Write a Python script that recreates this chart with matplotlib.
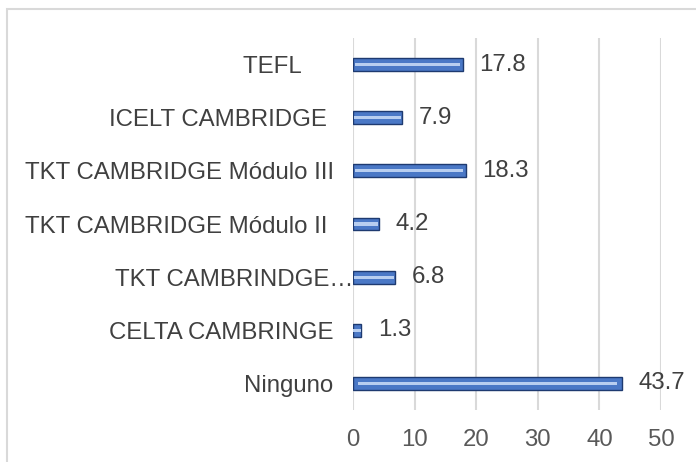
import matplotlib
matplotlib.use('Agg')
import matplotlib.pyplot as plt
import matplotlib.transforms as mtransforms
from matplotlib.patches import Rectangle

plt.rcParams['font.family'] = ['Liberation Sans', 'DejaVu Sans']

categories = ['Ninguno', 'CELTA CAMBRINGE', 'TKT CAMBRINDGE\u2026',
              'TKT CAMBRIDGE Módulo II ', 'TKT CAMBRIDGE Módulo III',
              'ICELT CAMBRIDGE ', 'TEFL     ']
values = [43.7, 1.3, 6.8, 4.2, 18.3, 7.9, 17.8]
ticks = [0, 10, 20, 30, 40, 50]

W, H = 696, 462
FS = 17.3
fig = plt.figure(figsize=(W / 100, H / 100), dpi=100)
ax = fig.add_axes([353 / W, 1 - 410 / H, (661 - 353) / W, (410 - 38) / H])

# outer frame of the chart area
fig.patches.append(Rectangle((7 / W, -0.1), 1.2, 1.1 - 9 / H, transform=fig.transFigure,
                             fill=False, edgecolor='#D9D9D9', linewidth=1.5))

pos = list(range(len(categories)))
ax.barh(pos, values, height=0.24, color='#4A78C6', edgecolor='#1E3A70', linewidth=1.0, zorder=3)
ax.barh(pos, [v * 0.96 for v in values], left=[v * 0.02 for v in values], height=0.06,
        color='#B8CEF0', linewidth=0, zorder=4)

for p, v in zip(pos, values):
    ax.text(v + 2.7, p, f'{v:.1f}', va='center', ha='left', fontsize=FS, color='#404040')

ax.set_xlim(0, 50)
ax.set_ylim(-0.5, 6.5)
ax.set_xticks(ticks)
ax.set_yticks(pos)
ax.set_yticklabels(categories)
ax.grid(axis='x', color='#D9D9D9', linewidth=1.5, zorder=0)
for s in ax.spines.values():
    s.set_visible(False)
ax.tick_params(axis='both', length=0, labelsize=FS, colors='#404040')
ax.tick_params(axis='x', pad=14, colors='#595959')
ax.tick_params(axis='y', pad=14)

# truncated label sits closer to the axis
lbl = ax.get_yticklabels()[2]
lbl.set_transform(lbl.get_transform() + mtransforms.ScaledTranslation(0.2, 0, fig.dpi_scale_trans))

fig.savefig('out.png', dpi=100)
